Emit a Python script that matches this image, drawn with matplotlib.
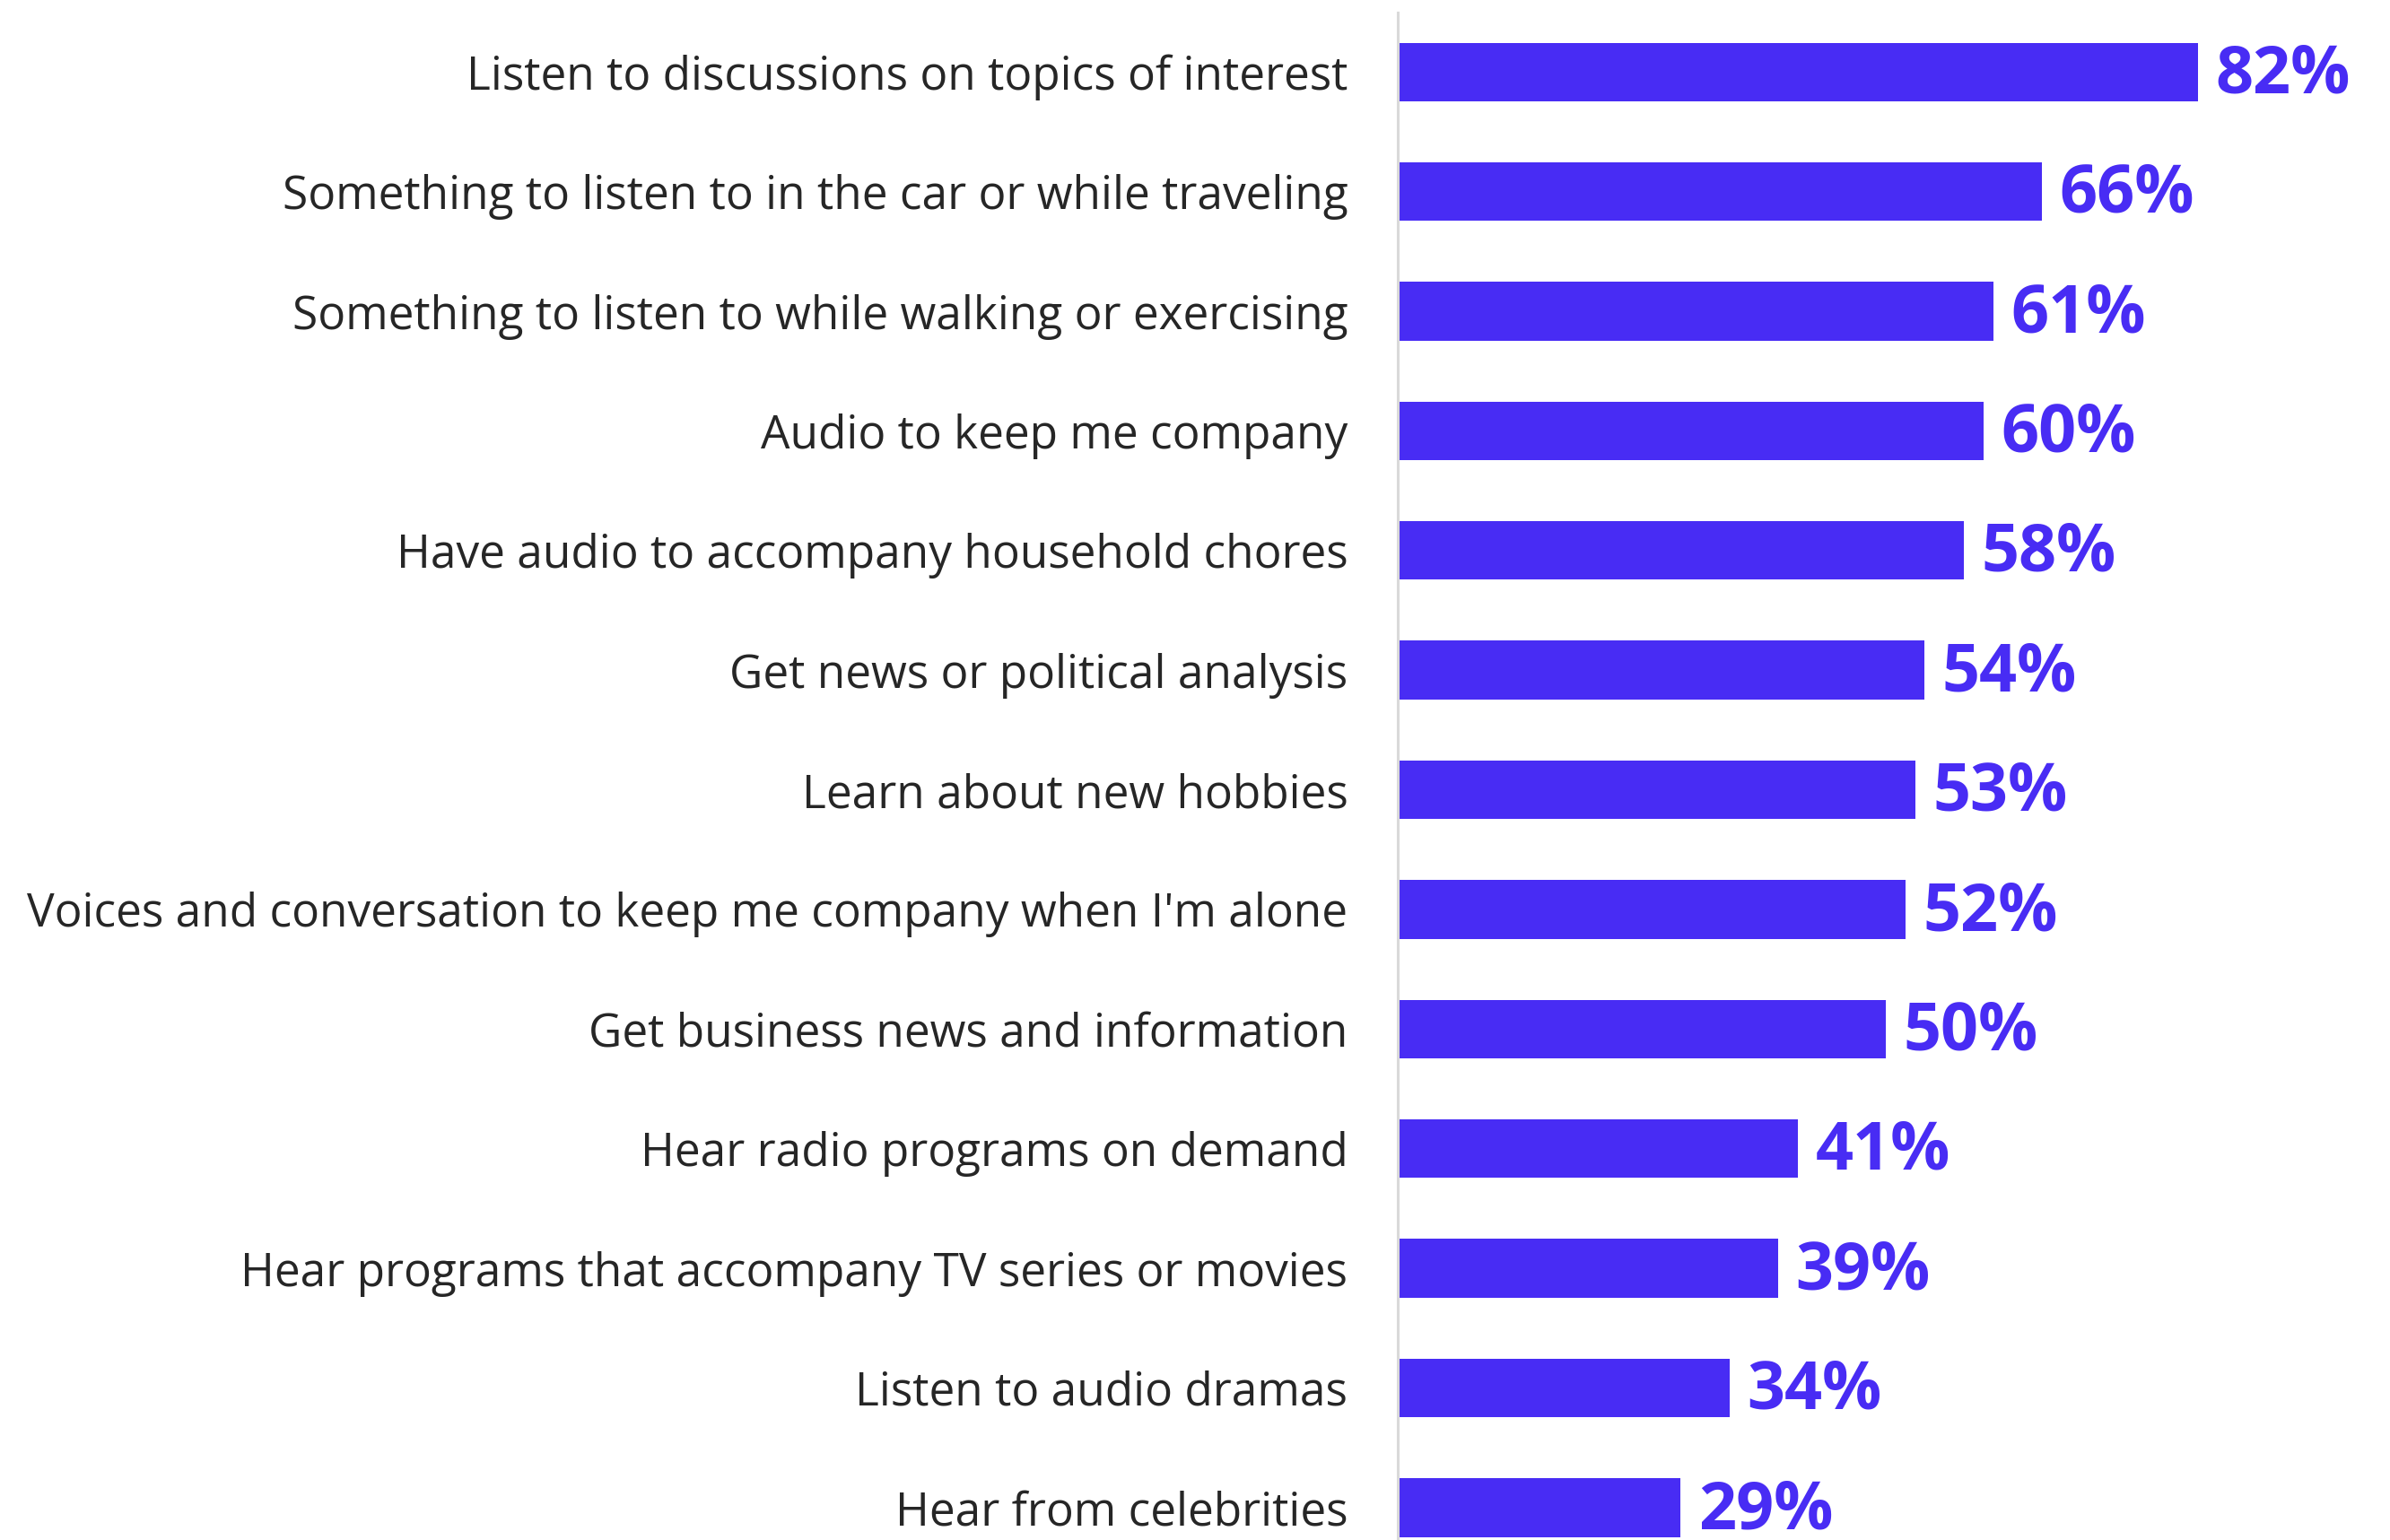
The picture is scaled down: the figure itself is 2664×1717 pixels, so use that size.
import matplotlib
matplotlib.use('Agg')
import matplotlib.pyplot as plt

categories = [
    'Listen to discussions on topics of interest',
    'Something to listen to in the car or while traveling',
    'Something to listen to while walking or exercising',
    'Audio to keep me company',
    'Have audio to accompany household chores',
    'Get news or political analysis',
    'Learn about new hobbies',
    "Voices and conversation to keep me company when I'm alone",
    'Get business news and information',
    'Hear radio programs on demand',
    'Hear programs that accompany TV series or movies',
    'Listen to audio dramas',
    'Hear from celebrities',
]

percentages = [82, 66, 61, 60, 58, 54, 53, 52, 50, 41, 39, 34, 29]

BAR_COLOUR = '#482CF4'
TEXT_COLOUR = '#262626'


def plot_reasons(categories, percentages):
    """
    Draws a horizontal bar chart of the reasons for listening, largest at the top,
    with the percentage written at the end of each bar.
    """

    fig = plt.figure(figsize=(26.64, 17.17), dpi=100)
    ax = fig.add_axes([0.5848, -0.0178, 0.4084, 1.0099])

    positions = list(range(len(categories)))
    ax.barh(positions, percentages, height=0.49, color=BAR_COLOUR)

    for pos, value in zip(positions, percentages):
        ax.annotate(str(value) + '%', xy=(value, pos), xytext=(14, -3),
                    textcoords='offset points', ha='left', va='center',
                    fontsize=53, fontweight='bold', color=BAR_COLOUR,
                    family='Open Sans', annotation_clip=False)

    ax.set_xlim(0, 100)
    ax.set_ylim(len(categories) - 0.5, -0.5)

    ax.set_yticks(positions)
    ax.set_yticklabels(categories, fontsize=37, color=TEXT_COLOUR, family='Open Sans')
    ax.tick_params(axis='y', length=0, pad=40)
    ax.set_xticks([])

    for side in ['top', 'right', 'bottom']:
        ax.spines[side].set_visible(False)
    ax.spines['left'].set_color('#d9d9d9')
    ax.spines['left'].set_linewidth(2.2)

    fig.savefig('out.png', dpi=100)


def main():

    plot_reasons(categories, percentages)


if __name__ == '__main__':
    main()
